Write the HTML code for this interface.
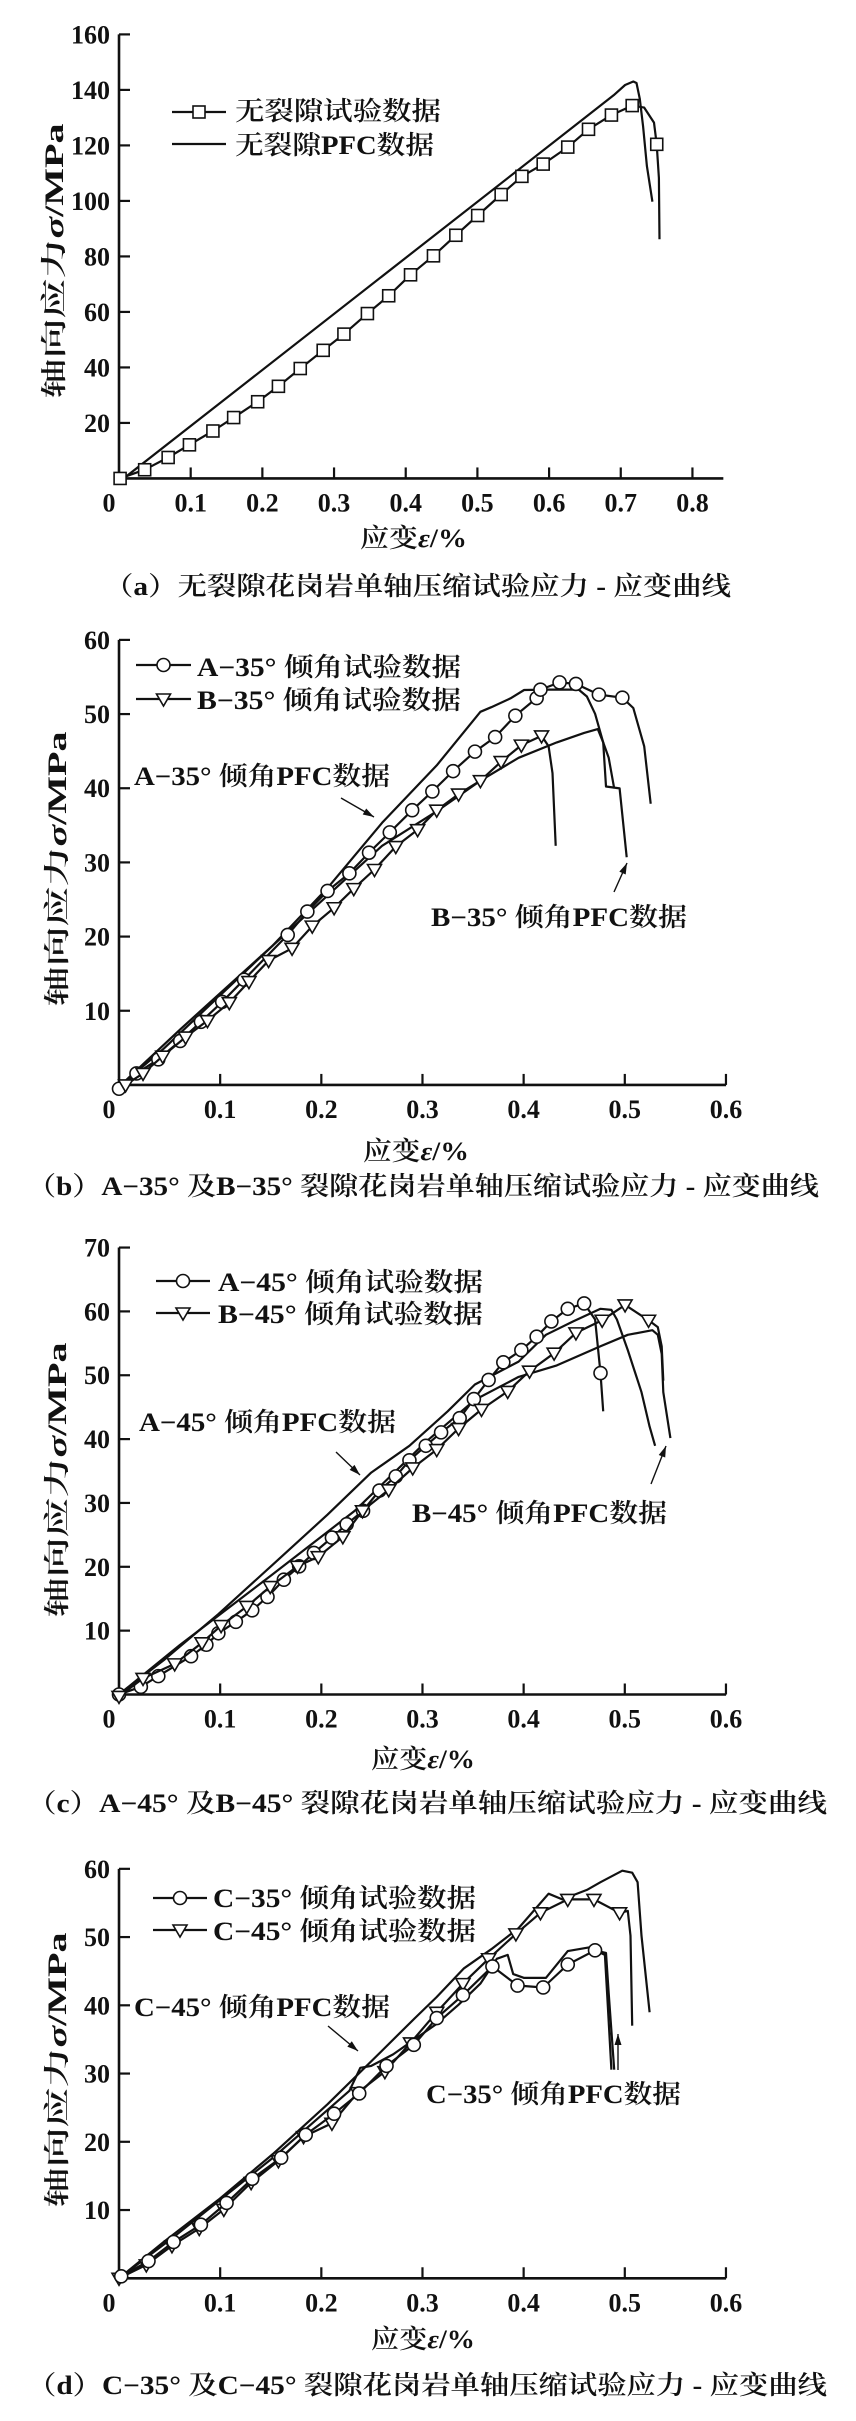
<!DOCTYPE html>
<html><head><meta charset="utf-8"><style>
html,body{margin:0;padding:0;background:#fff;}
svg{display:block;}
text{fill:#111;}
.t{font-family:"Liberation Serif","Noto Serif CJK SC",serif;font-weight:bold;font-size:26px;}
.c{font-family:"Liberation Serif","Noto Serif CJK SC",serif;font-size:26px;font-weight:600;}
</style></head><body>
<svg id="s" width="856" height="2421" viewBox="0 0 856 2421" xmlns="http://www.w3.org/2000/svg">
<g id="g"></g>
<!-- chart a text -->
<text class="c" x="235" y="120" textLength="206" lengthAdjust="spacingAndGlyphs">无裂隙试验数据</text>
<text class="c" x="235" y="154" textLength="199" lengthAdjust="spacingAndGlyphs">无裂隙PFC数据</text>
<text class="c" x="360" y="547" textLength="107" lengthAdjust="spacingAndGlyphs">应变<tspan font-style="italic">ε</tspan>/%</text>
<text class="c" x="104" y="595" textLength="627" lengthAdjust="spacingAndGlyphs">（a）无裂隙花岗岩单轴压缩试验应力 - 应变曲线</text>
<!-- chart b -->
<text class="c" x="197" y="676" textLength="264" lengthAdjust="spacingAndGlyphs">A−35° 倾角试验数据</text>
<text class="c" x="197" y="709" textLength="264" lengthAdjust="spacingAndGlyphs">B−35° 倾角试验数据</text>
<text class="c" x="134" y="785" textLength="256" lengthAdjust="spacingAndGlyphs">A−35° 倾角PFC数据</text>
<text class="c" x="431" y="926" textLength="256" lengthAdjust="spacingAndGlyphs">B−35° 倾角PFC数据</text>
<text class="c" x="363" y="1160" textLength="106" lengthAdjust="spacingAndGlyphs">应变<tspan font-style="italic">ε</tspan>/%</text>
<text class="c" x="27" y="1195" textLength="792" lengthAdjust="spacingAndGlyphs">（b）A−35° 及B−35° 裂隙花岗岩单轴压缩试验应力 - 应变曲线</text>
<!-- chart c -->
<text class="c" x="218" y="1291" textLength="265" lengthAdjust="spacingAndGlyphs">A−45° 倾角试验数据</text>
<text class="c" x="218" y="1323" textLength="265" lengthAdjust="spacingAndGlyphs">B−45° 倾角试验数据</text>
<text class="c" x="139" y="1431" textLength="257" lengthAdjust="spacingAndGlyphs">A−45° 倾角PFC数据</text>
<text class="c" x="412" y="1522" textLength="255" lengthAdjust="spacingAndGlyphs">B−45° 倾角PFC数据</text>
<text class="c" x="371" y="1768" textLength="104" lengthAdjust="spacingAndGlyphs">应变<tspan font-style="italic">ε</tspan>/%</text>
<text class="c" x="27" y="1812" textLength="800" lengthAdjust="spacingAndGlyphs">（c）A−45° 及B−45° 裂隙花岗岩单轴压缩试验应力 - 应变曲线</text>
<!-- chart d -->
<text class="c" x="213" y="1907" textLength="263" lengthAdjust="spacingAndGlyphs">C−35° 倾角试验数据</text>
<text class="c" x="213" y="1940" textLength="263" lengthAdjust="spacingAndGlyphs">C−45° 倾角试验数据</text>
<text class="c" x="134" y="2016" textLength="256" lengthAdjust="spacingAndGlyphs">C−45° 倾角PFC数据</text>
<text class="c" x="426" y="2103" textLength="255" lengthAdjust="spacingAndGlyphs">C−35° 倾角PFC数据</text>
<text class="c" x="371" y="2348" textLength="104" lengthAdjust="spacingAndGlyphs">应变<tspan font-style="italic">ε</tspan>/%</text>
<text class="c" x="27" y="2394" textLength="800" lengthAdjust="spacingAndGlyphs">（d）C−35° 及C−45° 裂隙花岗岩单轴压缩试验应力 - 应变曲线</text>
<!-- y labels -->
<text class="c" transform="translate(63,261) rotate(-90)" text-anchor="middle" textLength="275" lengthAdjust="spacingAndGlyphs">轴向应力<tspan font-style="italic">σ</tspan>/MPa</text>
<text class="c" transform="translate(66,869) rotate(-90)" text-anchor="middle" textLength="275" lengthAdjust="spacingAndGlyphs">轴向应力<tspan font-style="italic">σ</tspan>/MPa</text>
<text class="c" transform="translate(66,1480) rotate(-90)" text-anchor="middle" textLength="275" lengthAdjust="spacingAndGlyphs">轴向应力<tspan font-style="italic">σ</tspan>/MPa</text>
<text class="c" transform="translate(66,2070) rotate(-90)" text-anchor="middle" textLength="275" lengthAdjust="spacingAndGlyphs">轴向应力<tspan font-style="italic">σ</tspan>/MPa</text>
</svg>
<script>
var NS="http://www.w3.org/2000/svg",G=document.getElementById('g');
var SX=1568/856;
function el(n,a){var e=document.createElementNS(NS,n);for(var k in a)e.setAttribute(k,a[k]);G.appendChild(e);return e;}
function tx(s,x,y,anchor){var e=el('text',{x:x,y:y,'class':'t','text-anchor':anchor});e.textContent=s;return e;}
function mk(yoff,H){var sy=1568/H;return function(p){return [p[0]/SX,yoff+p[1]/sy];};}
function line(T,pts,w){el('polyline',{points:pts.map(function(p){var q=T(p);return q[0].toFixed(1)+','+q[1].toFixed(1);}).join(' '),fill:'none',stroke:'#111','stroke-width':w||2.2,'stroke-linejoin':'round'});}
function marker(type,x,y){
 if(type=='s')el('rect',{x:x-6,y:y-6,width:12,height:12,fill:'#fff',stroke:'#111','stroke-width':1.6});
 else if(type=='o')el('circle',{cx:x,cy:y,r:6.5,fill:'#fff',stroke:'#111','stroke-width':1.6});
 else el('polygon',{points:(x-7)+','+(y-5)+' '+(x+7)+','+(y-5)+' '+x+','+(y+7),fill:'#fff',stroke:'#111','stroke-width':1.6});
}
function series(T,pts,type,tail){var all=pts.concat(tail||[]);line(T,all);pts.forEach(function(p){var q=T(p);marker(type,q[0],q[1]);});}
function axes(T,y0z,yTopZ,nY,step,xEndZ,nX,ylabDec,xTick){
 var a=T([218,yTopZ]),b=T([218,y0z]),c=T([xEndZ,y0z]);
 el('line',{x1:a[0],y1:a[1],x2:b[0],y2:b[1]+1,stroke:'#111','stroke-width':2.6});
 el('line',{x1:b[0]-1,y1:b[1],x2:c[0],y2:c[1],stroke:'#111','stroke-width':2.6});
 for(var i=1;i<=nY;i++){var yz=y0z-(y0z-yTopZ)*i/nY;var p=T([218,yz]);el('line',{x1:p[0],y1:p[1],x2:p[0]+11,y2:p[1],stroke:'#111','stroke-width':2.2});tx(String(i*step),110,p[1]+9,'end');}
 for(var j=1;j<=nX;j++){var xz=218+xTick*j;var q=T([xz,y0z]);el('line',{x1:q[0],y1:q[1],x2:q[0],y2:q[1]-11,stroke:'#111','stroke-width':2.2});tx((j/10).toFixed(1),q[0],q[1]+33,'middle');}
 tx('0',b[0]-10,b[1]+33,'middle');
}
function arrow(x1,y1,x2,y2){el('line',{x1:x1,y1:y1,x2:x2,y2:y2,stroke:'#111','stroke-width':1.4});var a=Math.atan2(y2-y1,x2-x1),L=11,W=3.5;
 var bx=x2-L*Math.cos(a),by=y2-L*Math.sin(a);el('polygon',{points:x2+','+y2+' '+(bx-W*Math.sin(a))+','+(by+W*Math.cos(a))+' '+(bx+W*Math.sin(a))+','+(by-W*Math.cos(a)),fill:'#111'});}
function leg(x1,x2,y,type){el('line',{x1:x1,y1:y,x2:x2,y2:y,stroke:'#111','stroke-width':2.2});if(type)marker(type,(x1+x2)/2,y);}

// ---- chart a
var A=mk(0,620);
axes(A,1210,87,8,20,1325,8,0,131.3);
line(A,[[218,1210],[231,1205],[1124,241],[1145,215],[1160,206],[1166,210],[1172,250],[1178,320],[1185,420],[1195,510]]);
series(A,[[220,1210],[265,1188],[308,1157],[347,1125],[390,1090],[428,1056],[472,1016],[510,977],[550,932],[592,886],[630,845],[673,793],[712,748],[752,695],[794,647],[835,595],[875,545],[918,492],[956,446],[995,415],[1040,372],[1078,327],[1120,291],[1158,267]],'s',[[1180,272],[1198,310],[1203,365],[1207,450],[1208,605]]);
(function(){var q=A([1203,365]);marker('s',q[0],q[1]);})();
leg(172,226,112,'s');leg(172,226,144,null);

// ---- chart b
var B=mk(620,600);
axes(B,1215,52,6,10,1330,6,0,185.3);
line(B,[[218,1220],[300,1120],[400,985],[500,850],[600,700],[700,530],[800,380],[880,240],[900,228],[935,205],[960,183],[1000,182],[1060,182],[1075,200],[1090,245],[1105,320],[1115,360],[1125,440]]);
line(B,[[218,1220],[330,1070],[500,850],[700,590],[800,500],[880,420],[950,360],[1020,320],[1070,295],[1095,285],[1105,320],[1110,435],[1135,440],[1148,620]]);
series(B,[[218,1225],[250,1185],[290,1148],[330,1100],[368,1050],[407,998],[447,940],[527,823],[563,762],[600,708],[640,662],[676,608],[714,555],[755,497],[792,448],[830,395],[870,344],[907,306],[944,250],[983,204],[990,182],[1025,163],[1055,167],[1097,195],[1140,203]],'o',[[1160,230],[1180,330],[1192,480]]);
series(B,[[230,1215],[262,1185],[298,1140],[340,1090],[380,1047],[420,1000],[456,945],[492,890],[535,858],[572,800],[612,752],[648,702],[686,652],[725,592],[765,548],[800,497],[840,455],[880,420],[918,370],[955,327],[992,303]],'v',[[1005,330],[1012,400],[1018,590]]);
leg(136,191,665,'o');leg(136,191,699,'v');
arrow(341,798,374,817);arrow(614,892,627,863);

// ---- chart c
var C=mk(1220,600);
axes(C,1240,72,7,10,1330,6,0,185.3);
line(C,[[218,1240],[300,1150],[400,1030],[500,900],[600,770],[680,660],[750,590],[820,500],[870,430],[950,370],[1000,300],[1050,265],[1100,232],[1120,235],[1130,260],[1150,340],[1175,450],[1190,540],[1200,590]]);
line(C,[[218,1240],[330,1110],[500,925],[650,760],[780,580],[870,470],[950,410],[1020,380],[1100,330],[1150,300],[1195,288],[1205,300],[1212,350],[1215,450],[1228,570]]);
series(C,[[218,1240],[258,1220],[290,1192],[350,1140],[378,1110],[400,1080],[432,1050],[462,1020],[490,985],[520,940],[548,905],[575,870],[608,830],[635,795],[665,760],[695,707],[725,670],[750,628],[780,590],[808,555],[842,518],[868,468],[895,418],[922,372],[955,340],[983,305],[1010,265],[1040,232],[1070,218]],'o',[[1090,260],[1100,400],[1105,500]]);
(function(){var q=C([1100,400]);marker('o',q[0],q[1]);})();
series(C,[[218,1245],[262,1198],[320,1160],[370,1105],[405,1060],[452,1010],[495,958],[545,905],[583,880],[628,828],[664,760],[712,705],[756,648],[800,600],[840,545],[882,495],[930,448],[970,395],[1015,348],[1055,295],[1103,262],[1145,222],[1188,262]],'v',[[1205,280],[1212,330],[1215,420]]);
leg(156,210,1281,'o');leg(156,210,1313,'v');
arrow(336,1452,360,1475);arrow(651,1484,666,1446);

// ---- chart d
var D=mk(1821,600);
axes(D,1195,125,6,10,1330,6,0,185.3);
line(D,[[218,1195],[300,1100],[400,990],[500,870],[600,740],[700,600],[760,515],[800,460],[850,385],[900,335],[950,280],[1005,190],[1030,205],[1075,180],[1100,160],[1140,130],[1158,135],[1168,160],[1175,300],[1190,500]]);
line(D,[[218,1195],[320,1085],[500,880],[640,705],[660,645],[680,640],[720,610],[800,530],[840,480],[880,425],[910,360],[930,350],[940,400],[960,410],[1000,410],[1040,340],[1060,335],[1080,330],[1095,340],[1110,345],[1115,450],[1125,650]]);
series(D,[[218,1195],[268,1160],[315,1110],[365,1065],[410,1015],[460,945],[510,888],[556,825],[608,790],[655,710],[705,655],[752,580],[800,500],[848,425],[895,360],[945,295],[990,240],[1040,205],[1088,205],[1135,240]],'v',[[1150,235],[1155,300],[1158,535]]);
series(D,[[222,1190],[272,1150],[318,1100],[368,1055],[415,998],[462,935],[515,880],[560,820],[612,765],[658,712],[708,640],[758,585],[800,515],[848,455],[902,380],[948,430],[995,435],[1040,375],[1090,338]],'o',[[1108,350],[1112,450],[1120,650]]);
leg(153,207,1898,'o');leg(153,207,1930,'v');
arrow(328,2026,358,2051);arrow(618,2070,618,2034);
</script>
</body></html>
